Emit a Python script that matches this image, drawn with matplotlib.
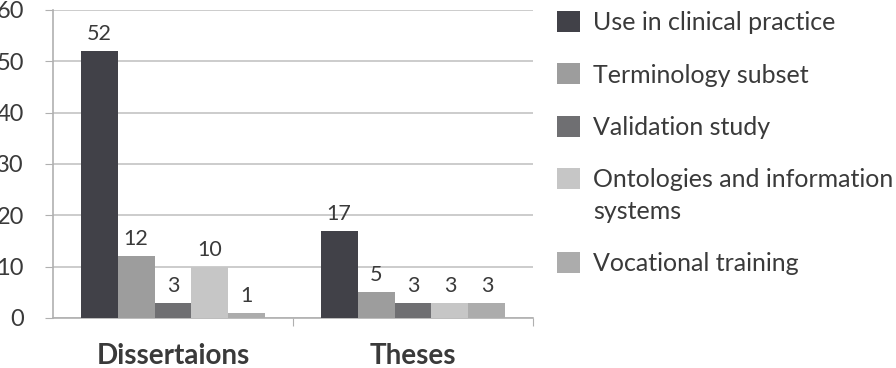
import matplotlib
matplotlib.use("Agg")
import matplotlib.pyplot as plt
import numpy as np

categories = ["Dissertaions", "Theses"]
series_names = ["Use in clinical practice", "Terminology subset", "Validation study",
                "Ontologies and information\nsystems", "Vocational training"]
values = {
    "Use in clinical practice": [52, 17],
    "Terminology subset": [12, 5],
    "Validation study": [3, 3],
    "Ontologies and information\nsystems": [10, 3],
    "Vocational training": [1, 3],
}
colors = ["#414148", "#9d9d9d", "#6f6f72", "#c6c6c6", "#acacac"]
yticks = [0, 10, 20, 30, 40, 50, 60]

plt.rcParams['font.family'] = ['Lato', 'DejaVu Sans']
txt = "#3a3a3a"

fig = plt.figure(figsize=(8.96, 3.68), dpi=100)
ax = fig.add_axes([53/896, 50/368, 480/896, 308/368])

x = np.arange(len(categories))
w = 0.154
for i, name in enumerate(series_names):
    pos = x + (i - 2) * w
    bars = ax.bar(pos, values[name], width=w, color=colors[i], label=name, zorder=3)
    for b, v in zip(bars, values[name]):
        ax.annotate(str(v), (b.get_x() + b.get_width()/2, v), xytext=(0, 5),
                    textcoords="offset points", ha="center", va="bottom",
                    fontsize=15.5, color=txt)

ax.set_xlim(-0.5, 1.5)
ax.set_ylim(0, 60)
ax.set_yticks(yticks)
ax.set_yticklabels([str(t) for t in yticks], fontsize=17, color=txt)
ax.yaxis.grid(True, color="#c4c4c4", linewidth=1.2, zorder=0)
ax.tick_params(axis="y", length=6, color="#b0b0b0", pad=15)

ax.set_xticks([0.5, 1.5], minor=False)
ax.set_xticklabels([])
ax.set_xticks(x, minor=True)
ax.set_xticklabels(categories, minor=True, fontsize=20, fontweight="bold", color=txt)
ax.tick_params(axis="x", which="major", length=6, color="#b0b0b0", direction="out")
ax.tick_params(axis="x", which="minor", length=0, pad=18)

for s in ["top", "right"]:
    ax.spines[s].set_visible(False)
for s in ["left", "bottom"]:
    ax.spines[s].set_color("#b0b0b0")
    ax.spines[s].set_linewidth(1.2)

leg = fig.legend(loc="upper left", bbox_to_anchor=(557/896, 1 - 11/368), frameon=False,
                 fontsize=18, handlelength=0.92, handleheight=0.92, handletextpad=0.52,
                 labelspacing=1.17, borderaxespad=0, borderpad=0)
for t in leg.get_texts():
    t.set_color(txt)
leg.get_texts()[3].set_linespacing(1.45)
# align the square of the two-line entry with its first line
h4 = leg.legend_handles[3]
h4.set_y(h4.get_y() + 13)

fig.savefig("out.png", dpi=100)
